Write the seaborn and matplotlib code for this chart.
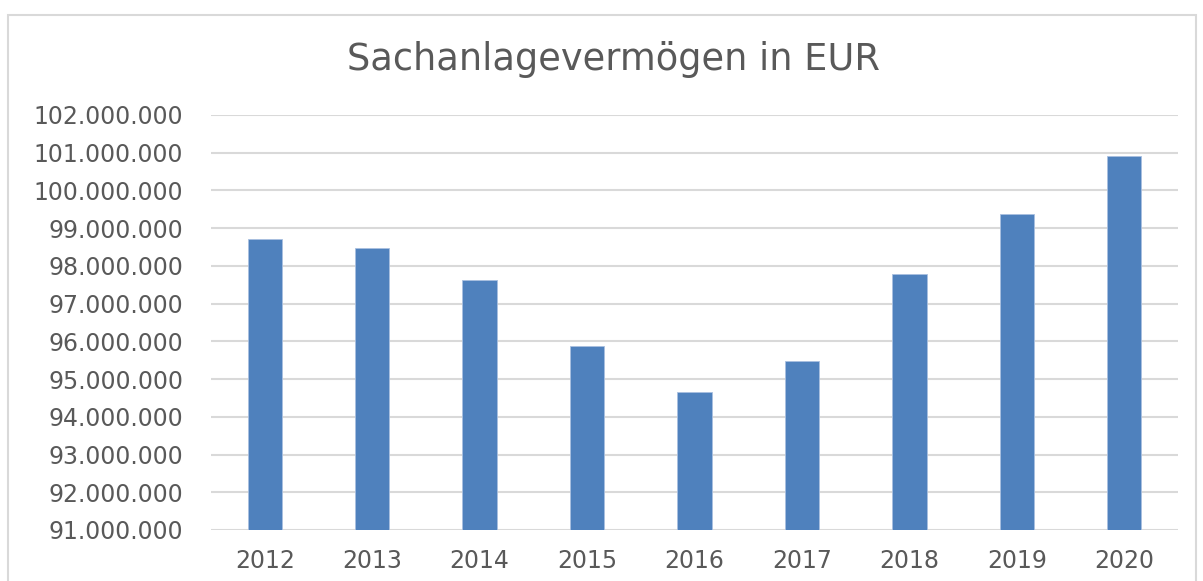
import matplotlib
matplotlib.use("Agg")
import matplotlib.pyplot as plt
import seaborn as sns
import pandas as pd
from matplotlib.ticker import FuncFormatter, MultipleLocator
from matplotlib.patches import Rectangle

years = ["2012", "2013", "2014", "2015", "2016", "2017", "2018", "2019", "2020"]
values = [98700000, 98470000, 97630000, 95870000, 94650000,
          95470000, 97780000, 99370000, 100900000]

df = pd.DataFrame({"Jahr": years, "Wert": values})

sns.set_style("white")
plt.rcParams['font.family'] = ['DejaVu Sans']

fig = plt.figure(figsize=(12.03, 5.81), dpi=100)
ax = fig.add_axes([0.1754, 0.0878, 0.8038, 0.7143])

sns.barplot(data=df, x="Jahr", y="Wert", color="#4f81bd", saturation=1,
            width=0.32, edgecolor="#a9c0e0", linewidth=0.6, ax=ax)

ax.set_ylim(91000000, 102000000)
ax.set_xlim(-0.5, 8.5)
ax.yaxis.set_major_locator(MultipleLocator(1000000))
ax.yaxis.set_major_formatter(FuncFormatter(lambda v, p: f"{v:,.0f}".replace(",", ".")))
ax.grid(axis="y", color="#d9d9d9", linewidth=1.5)
ax.set_axisbelow(True)
for s in ax.spines.values():
    s.set_visible(False)
ax.tick_params(axis="both", length=0, labelsize=17, colors="#595959")
ax.tick_params(axis="y", pad=20)
ax.tick_params(axis="x", pad=14)
ax.set_xlabel("")
ax.set_ylabel("")

fig.text(0.5096, 0.8795, "Sachanlagevermögen in EUR", ha="center", va="baseline",
         fontsize=26.5, color="#595959")

# chart frame
fig.patches.append(Rectangle((8 / 1203, -0.05), 1188 / 1203, 1.05 - 15 / 581,
                             transform=fig.transFigure, fill=False,
                             edgecolor="#d9d9d9", linewidth=1.5))

fig.savefig("out.png", dpi=100)
